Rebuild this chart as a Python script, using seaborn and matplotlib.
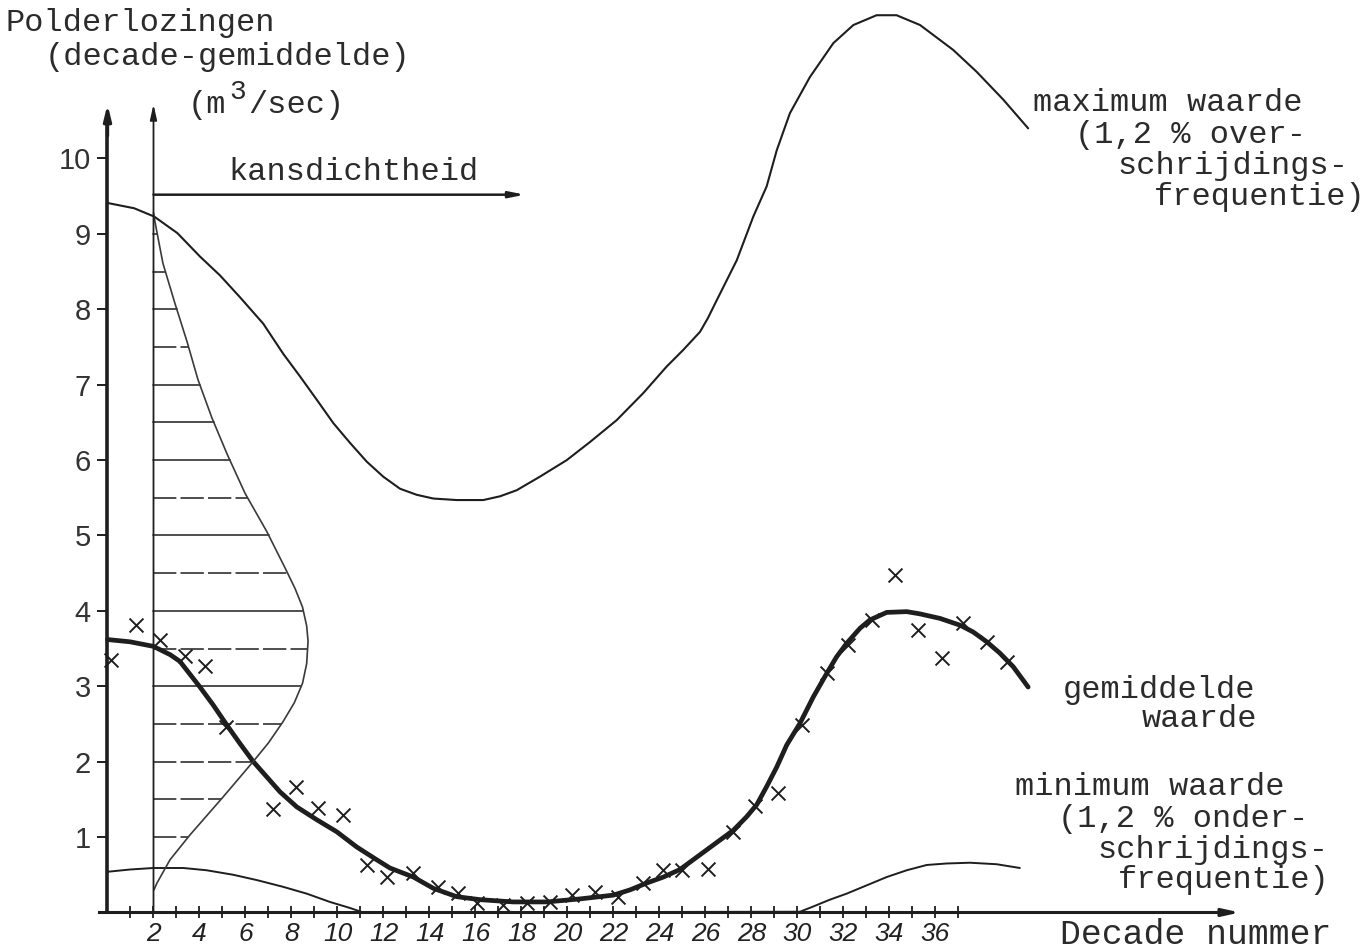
import numpy as np
import matplotlib
matplotlib.use("Agg")
import matplotlib.pyplot as plt
import seaborn as sns

# Polder discharge per decade (m3/sec)
max_decade = [0.0, 1.16, 2.03, 3.04, 4.02, 4.89, 5.76, 6.77, 7.64, 8.37, 9.1, 9.82,
              10.54, 11.27, 11.99, 12.72, 13.44, 14.17, 15.18, 16.34, 17.07, 17.79,
              18.8, 19.97, 20.98, 22.14, 23.3, 24.31, 25.03, 25.76, 26.1, 26.49, 27.36,
              28.08, 28.66, 29.1, 29.67, 30.54, 31.56, 32.43, 33.44, 34.31, 35.33,
              36.77, 37.79, 38.95, 40.03]
max_value = [9.41, 9.34, 9.23, 9.01, 8.70, 8.45, 8.16, 7.81, 7.41, 7.11, 6.80, 6.49,
             6.23, 5.98, 5.78, 5.62, 5.54, 5.49, 5.47, 5.47, 5.52, 5.60,
             5.78, 6.00, 6.24, 6.53, 6.89, 7.24, 7.46, 7.70, 7.88, 8.12, 8.65,
             9.23, 9.63, 10.11, 10.60, 11.08, 11.53, 11.77, 11.90, 11.90, 11.77,
             11.44, 11.15, 10.78, 10.40]

mean_decade = [0.0, 0.98, 1.99, 2.72, 3.15, 4.02, 4.6, 5.18, 5.76, 6.34, 6.92, 7.5,
               8.23, 9.1, 9.97, 10.83, 11.7, 12.28, 13.3, 14.17, 15.18, 16.2, 17.64,
               19.1, 20.54, 21.99, 22.72, 23.44, 24.17, 24.89, 25.47, 26.05, 26.63,
               27.21, 27.79, 28.23, 28.66, 29.1, 29.53, 30.11, 30.69, 31.27, 31.7,
               32.14, 32.72, 33.15, 33.88, 34.75, 35.33, 36.2, 37.07, 37.64, 38.23,
               38.8, 39.38, 40.03]
mean_value = [3.62, 3.59, 3.53, 3.42, 3.33, 2.99, 2.75, 2.49, 2.24, 2.00, 1.80, 1.60,
              1.40, 1.23, 1.07, 0.87, 0.70, 0.59, 0.47, 0.32, 0.21, 0.17, 0.14,
              0.14, 0.18, 0.23, 0.30, 0.39, 0.47, 0.57, 0.70, 0.83, 0.96,
              1.09, 1.27, 1.43, 1.67, 1.93, 2.22, 2.51, 2.86, 3.17, 3.39,
              3.57, 3.77, 3.88, 3.98, 3.99, 3.96, 3.90, 3.81, 3.72, 3.59,
              3.44, 3.26, 2.99]

min_decade = [0.0, 0.98, 1.99, 3.3, 4.31, 5.47, 6.49, 7.64, 8.66, 9.67, 10.54, 11.12,
              30.11, 30.69, 31.41, 32.14, 33.01, 33.88, 34.75, 35.62, 36.49, 37.5,
              38.66, 39.67]
min_value = [0.54, 0.57, 0.59, 0.59, 0.56, 0.50, 0.43, 0.34, 0.25, 0.14, 0.06, 0.0,
             0.01, 0.08, 0.17, 0.25, 0.36, 0.47, 0.56, 0.63, 0.65, 0.66,
             0.64, 0.59]

obs_decade = [0.14, 1.24, 2.28, 3.37, 4.24, 5.15, 7.2, 8.2, 9.15, 10.24, 11.28, 12.15,
              13.28, 14.37, 15.24, 16.07, 17.2, 18.24, 19.24, 20.2, 21.2, 22.2, 23.28,
              24.15, 25.0, 26.1, 27.2, 28.15, 29.15, 30.2, 31.28, 32.2, 33.24, 34.24,
              35.24, 36.28, 37.2, 38.24, 39.1]
obs_value = [3.35, 3.81, 3.62, 3.40, 3.27, 2.46, 1.37, 1.67, 1.39, 1.29, 0.63, 0.47,
             0.52, 0.34, 0.26, 0.13, 0.10, 0.13, 0.14, 0.23, 0.27, 0.21, 0.39,
             0.56, 0.56, 0.58, 1.07, 1.41, 1.58, 2.49, 3.18, 3.55, 3.88, 4.48,
             3.75, 3.37, 3.84, 3.59, 3.32]

# probability density drawn sideways from the axis at decade 2
dens_level = [9.28, 9.15, 8.61, 8.08, 7.57, 7.07, 6.56, 6.08, 5.56, 5.05, 4.57, 4.30,
              4.05, 3.80, 3.60, 3.30, 3.04, 2.78, 2.53, 2.25, 2.00, 1.53, 1.03,
              0.70, 0.39, 0.30]
dens_width = [0.0, 0.07, 0.41, 0.93, 1.46, 1.93, 2.54, 3.20, 3.98, 4.93, 5.72, 6.15,
              6.48, 6.66, 6.72, 6.66, 6.48, 6.12, 5.63, 5.00, 4.33, 3.02, 1.59,
              0.72, 0.15, 0.02]
hatch_levels = [1.0, 1.5, 2.0, 2.5, 3.0, 3.5, 4.0, 4.5, 5.0, 5.5, 6.0, 6.5, 7.0, 7.5,
                8.0, 8.5, 9.0]
hatch_dashed = [1.0, 1.5, 2.0, 2.5, 3.5, 4.5, 5.5, 7.5]

y_ticks = list(range(1, 11))
x_major = list(range(2, 38, 2))
x_minor = list(range(1, 38))

sns.set_style("white")
plt.rcParams['font.family'] = ['Liberation Mono', 'DejaVu Sans Mono']

W, H = 1369, 948
fig = plt.figure(figsize=(W / 100, H / 100), dpi=100)
ax = fig.add_axes([0, 0, 1, 1])
ax.set_xlim(-4.674, 54.85)
ax.set_ylim(-0.471, 12.102)
ax.patch.set_alpha(0)

ink = '#1e1e1e'
typed = '#2b2b2b'

# curves
line_kw = dict(sort=False, estimator=None, ax=ax)
sns.lineplot(x=max_decade, y=max_value, color=ink, lw=1.5, **line_kw)
sns.lineplot(x=mean_decade, y=mean_value, color=ink, lw=3.4, **line_kw)
sns.lineplot(x=min_decade, y=min_value, color=ink, lw=1.4, **line_kw)
dens_x = 2 + np.array(dens_width)
sns.lineplot(x=dens_x, y=dens_level, color='#3a3a3a', lw=1.2, **line_kw)

# horizontal hatching under the density curve
order = np.argsort(dens_level)
lev_sorted = np.array(dens_level)[order]
wid_sorted = np.array(dens_width)[order]
for lev in hatch_levels:
    w = np.interp(lev, lev_sorted, wid_sorted)
    ls = (0, (14, 2.5)) if lev in hatch_dashed else '-'
    ax.plot([2, 2 + w], [lev, lev], color='#303030', lw=1.2, ls=ls, zorder=1)

# observed decade averages
sns.scatterplot(x=obs_decade, y=obs_value, marker='x', s=100, color=ink,
                linewidth=1.4, ax=ax, zorder=5)

# axes
ax.spines['top'].set_visible(False)
ax.spines['right'].set_visible(False)
ax.spines['left'].set_position(('data', 0))
ax.spines['bottom'].set_position(('data', 0))
ax.spines['left'].set_bounds(0, 10.5)
ax.spines['bottom'].set_bounds(-0.35, 48.8)
ax.spines['left'].set_linewidth(2.6)
ax.spines['bottom'].set_linewidth(2.2)
ax.spines['left'].set_color(ink)
ax.spines['bottom'].set_color(ink)

ax.annotate('', xy=(0, 10.72), xytext=(0, 10.3),
            arrowprops=dict(arrowstyle='-|>,head_length=0.9,head_width=0.22',
                            color=ink, lw=2.4, shrinkA=0, shrinkB=0))
ax.annotate('', xy=(2, 10.72), xytext=(2, 0),
            arrowprops=dict(arrowstyle='-|>,head_length=0.9,head_width=0.2',
                            color=ink, lw=1.3, shrinkA=0, shrinkB=0))
ax.annotate('', xy=(49.24, 0), xytext=(48.4, 0),
            arrowprops=dict(arrowstyle='-|>,head_length=1.0,head_width=0.22',
                            color=ink, lw=2.2, shrinkA=0, shrinkB=0))
# density direction arrow
ax.annotate('', xy=(18.15, 9.52), xytext=(2, 9.52),
            arrowprops=dict(arrowstyle='-|>,head_length=0.9,head_width=0.18',
                            color=ink, lw=1.8, shrinkA=0, shrinkB=0))

ax.set_yticks(y_ticks)
ax.set_yticklabels([str(v) for v in y_ticks])
ax.set_xticks(x_major)
ax.set_xticklabels([str(v) for v in x_major])
ax.set_xticks(x_minor, minor=True)
ax.tick_params(axis='y', direction='out', length=7, width=1.4, pad=5,
               labelsize=21, colors=ink, left=True)
ax.tick_params(axis='x', which='both', direction='inout', length=8, width=1.3,
               pad=3, labelsize=19, colors=ink, bottom=True)
for lab in ax.get_yticklabels():
    lab.set_fontfamily('Liberation Sans')
    lab.set_color('#333333')
for lab in ax.get_xticklabels():
    lab.set_fontfamily('Liberation Sans')
    lab.set_fontstyle('italic')
    lab.set_color('#222222')


def label(s, x, y, size=23, ha='left'):
    fig.text(x / W, 1 - y / H, s, ha=ha, va='center', fontsize=size, color=typed)


label('Polderlozingen', 6, 23)
label('(decade-gemiddelde)', 45, 57)
# unit with raised exponent
label('(m', 188, 105)
label('3', 238, 92, size=20, ha='center')
label('/sec)', 248, 105)
label('kansdichtheid', 228, 172)

label('maximum waarde', 1033, 103)
label('(1,2 % over-', 1075, 135)
label('schrijdings-', 1117, 166)
label('frequentie)', 1154, 197)

label('gemiddelde', 1063, 690)
label('waarde', 1142, 719)

label('minimum waarde', 1015, 787)
label('(1,2 % onder-', 1058, 819)
label('schrijdings-', 1097, 850)
label('frequentie)', 1118, 880)

label('Decade nummer', 1060, 934, size=25)

fig.savefig('out.png', dpi=100, facecolor='white')
